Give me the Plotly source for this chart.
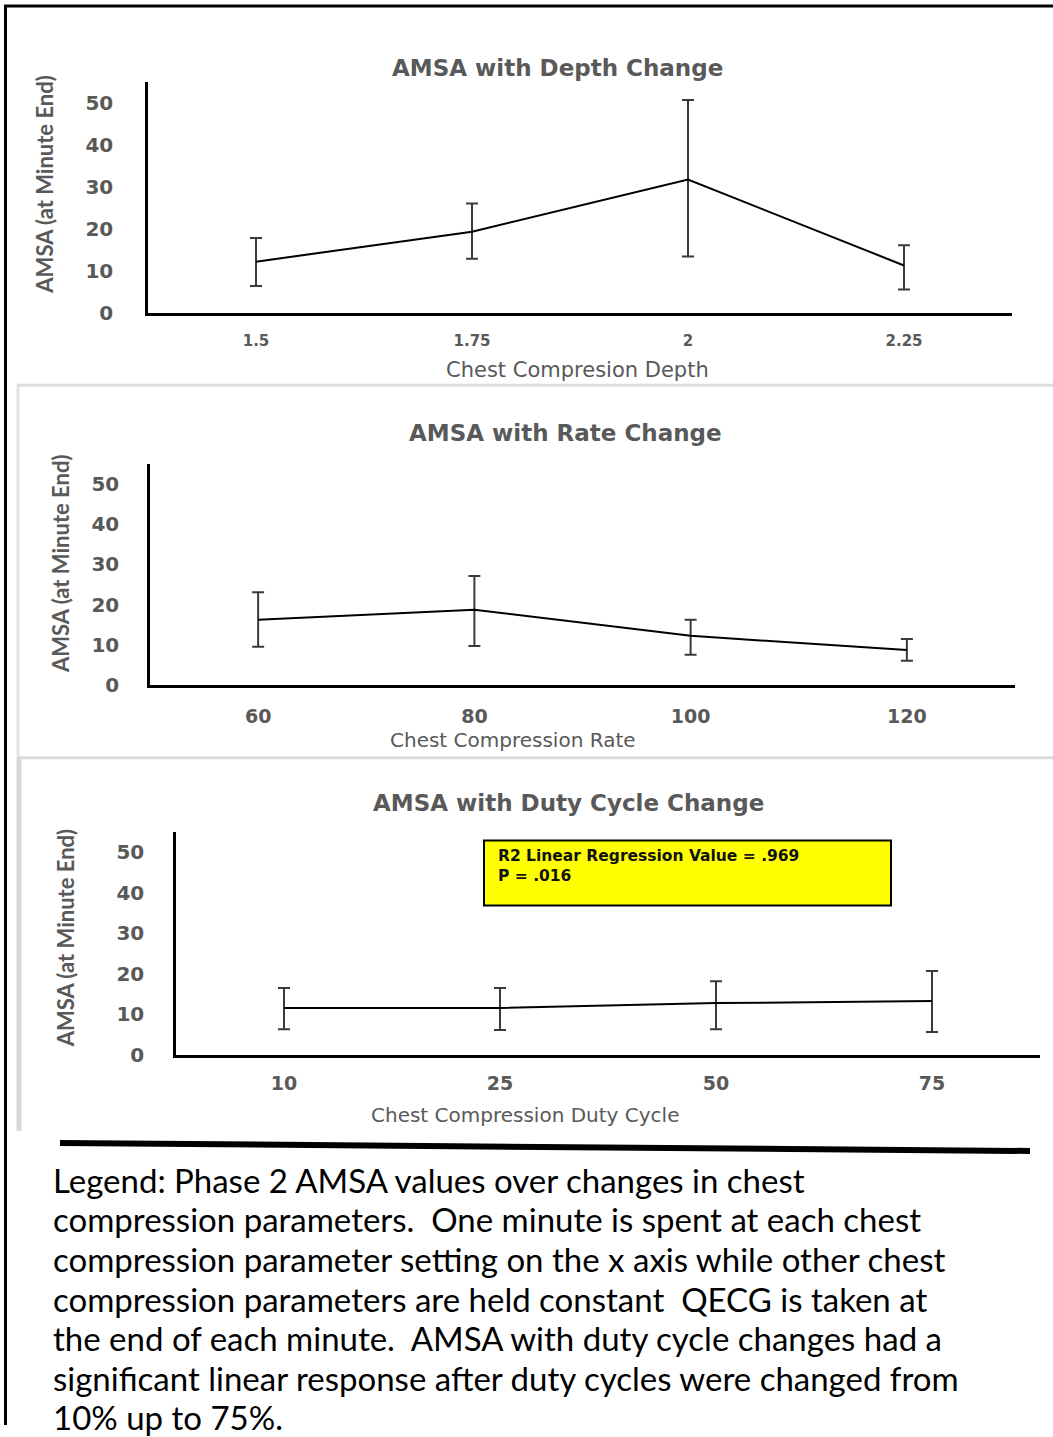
import plotly.graph_objects as go

W, H = 1053, 1437
YS = 1427.5  # vertical calibration: rendered picture is slightly compressed vertically

# ---- data ----
depth_cats = ["1.5", "1.75", "2", "2.25"]
depth_vals = [12.3, 19.4, 31.8, 11.4]
depth_err_plus = [5.6, 6.7, 18.9, 4.8]
depth_err_minus = [5.8, 6.4, 18.3, 5.7]

rate_cats = ["60", "80", "100", "120"]
rate_vals = [16.2, 18.7, 12.2, 8.7]
rate_err_plus = [6.9, 8.4, 4.0, 2.7]
rate_err_minus = [6.7, 9.0, 4.7, 2.7]

duty_cats = ["10", "25", "50", "75"]
duty_vals = [11.6, 11.6, 12.8, 13.3]
duty_err_plus = [4.9, 4.9, 5.4, 7.4]
duty_err_minus = [5.2, 5.4, 6.4, 7.6]

y_ticks = [0, 10, 20, 30, 40, 50]

titles = ["AMSA with Depth Change", "AMSA with Rate Change", "AMSA with Duty Cycle Change"]
x_titles = ["Chest Compresion Depth", "Chest Compression Rate", "Chest Compression Duty Cycle"]
y_title = "AMSA (at Minute End)"
box_lines = ["R2 Linear Regression Value = .969", "P = .016"]
caption_lines = [
    "Legend: Phase 2 AMSA values over changes in chest",
    "compression parameters.  One minute is spent at each chest",
    "compression parameter setting on the x axis while other chest",
    "compression parameters are held constant  QECG is taken at",
    "the end of each minute.  AMSA with duty cycle changes had a",
    "significant linear response after duty cycles were changed from",
    "10% up to 75%.",
]


def PX(x):
    return x / W


def PY(y):
    return max(0.0, 1 - y / YS)


GRAY = "#595959"
TFONT = "DejaVu Sans"

fig = go.Figure()

series = [
    (depth_cats, depth_vals, depth_err_plus, depth_err_minus, "x", "y"),
    (rate_cats, rate_vals, rate_err_plus, rate_err_minus, "x2", "y2"),
    (duty_cats, duty_vals, duty_err_plus, duty_err_minus, "x3", "y3"),
]
for cats, vals, ep, em, xa, ya in series:
    fig.add_trace(go.Scatter(
        x=cats, y=vals, mode="lines", xaxis=xa, yaxis=ya,
        line=dict(color="black", width=2),
        error_y=dict(type="data", array=ep, arrayminus=em, symmetric=False,
                     color="#3a3a3a", thickness=2, width=6),
        showlegend=False, hoverinfo="skip",
    ))

# panel geometry in pixels: (x0, x1, ytop, ybottom)
panels = [(148, 1012, 82, 314), (150, 1015, 465, 686), (176, 1040, 833, 1057)]
xtick_fonts = [dict(family=TFONT, size=15, color=GRAY, weight="bold"),
               dict(family=TFONT, size=19, color=GRAY, weight="bold"),
               dict(family=TFONT, size=19, color=GRAY, weight="bold")]
xtick_len = [12, 13, 9]
ytick_len = [28, 24, 25]
layout_axes = {}
for i, (x0, x1, yt, yb) in enumerate(panels):
    sx = "" if i == 0 else str(i + 1)
    layout_axes["xaxis" + sx] = dict(
        domain=[PX(x0), PX(x1)], anchor="y" + sx, type="category",
        range=[-0.5, 3.5], showline=True, linecolor="black", linewidth=2.5,
        showgrid=False, zeroline=False, ticks="outside", ticklen=xtick_len[i],
        tickcolor="rgba(0,0,0,0)", tickfont=xtick_fonts[i],
    )
    layout_axes["yaxis" + sx] = dict(
        domain=[PY(yb), PY(yt)], anchor="x" + sx, range=[0, 55],
        tickvals=y_ticks, showline=True, linecolor="black", linewidth=2.5,
        showgrid=False, zeroline=False, ticks="outside", ticklen=ytick_len[i],
        tickcolor="rgba(0,0,0,0)",
        tickfont=dict(family=TFONT, size=20, color=GRAY, weight="bold"),
    )
fig.update_layout(**layout_axes)

annotations = []
# chart titles
title_pos = [(557, 68), (565, 434), (568, 804)]
for t, (cx, cy) in zip(titles, title_pos):
    annotations.append(dict(text="<b>" + t + "</b>", x=PX(cx), y=PY(cy), xref="paper", yref="paper",
                            showarrow=False, xanchor="center", yanchor="middle",
                            font=dict(family=TFONT, size=23, color=GRAY)))
# x axis titles
xt_pos = [(577, 371), (513, 741), (525, 1117)]
xt_size = [21, 20, 20]
for t, (cx, cy), fs in zip(x_titles, xt_pos, xt_size):
    annotations.append(dict(text=t, x=PX(cx), y=PY(cy), xref="paper", yref="paper",
                            showarrow=False, xanchor="center", yanchor="middle",
                            font=dict(family=TFONT, size=fs, color=GRAY)))
# y axis titles
yt_pos = [(45, 185), (60, 565), (65, 940)]
for (cx, cy) in yt_pos:
    annotations.append(dict(text="<b>" + y_title + "</b>", x=PX(cx), y=PY(cy), xref="paper", yref="paper",
                            showarrow=False, xanchor="center", yanchor="middle", textangle=-90,
                            font=dict(family="Lato", size=22, color=GRAY)))
# yellow box text
annotations.append(dict(text="<b>" + box_lines[0] + "</b><br><b>" + box_lines[1] + "</b>",
                        x=PX(496), y=PY(846), xref="paper", yref="paper", showarrow=False,
                        xanchor="left", yanchor="top", align="left",
                        font=dict(family=TFONT, size=15.5, color="#111111")))
# caption lines
for k, line in enumerate(caption_lines):
    annotations.append(dict(text=line, x=PX(51), y=PY(1182 + 39.6 * k), xref="paper", yref="paper",
                            showarrow=False, xanchor="left", yanchor="middle", align="left",
                            font=dict(family="Lato", size=33, color="black")))

shapes = [
    # outer black frame
    dict(type="line", xref="paper", yref="paper", x0=PX(4), x1=PX(1053), y0=PY(6), y1=PY(6),
         line=dict(color="black", width=3)),
    dict(type="line", xref="paper", yref="paper", x0=PX(5.5), x1=PX(5.5), y0=PY(5), y1=0,
         line=dict(color="black", width=3)),
    # gray panel frames
    dict(type="line", xref="paper", yref="paper", x0=PX(17), x1=PX(1053), y0=PY(386), y1=PY(386),
         line=dict(color="#dcdcdc", width=3)),
    dict(type="line", xref="paper", yref="paper", x0=PX(18), x1=PX(18), y0=PY(386), y1=PY(759),
         line=dict(color="#e4e4e4", width=3)),
    dict(type="line", xref="paper", yref="paper", x0=PX(17), x1=PX(1053), y0=PY(759), y1=PY(759),
         line=dict(color="#dcdcdc", width=3)),
    dict(type="line", xref="paper", yref="paper", x0=PX(19), x1=PX(19), y0=PY(759), y1=PY(1133),
         line=dict(color="#d8d8d8", width=5)),
    # yellow box
    dict(type="rect", xref="paper", yref="paper", x0=PX(484), x1=PX(891), y0=PY(842), y1=PY(907),
         fillcolor="#ffff00", line=dict(color="black", width=2), layer="below"),
    # thick separator
    dict(type="line", xref="paper", yref="paper", x0=PX(60), x1=PX(1030), y0=PY(1145), y1=PY(1153),
         line=dict(color="black", width=6)),
]

fig.update_layout(
    width=W, height=H, margin=dict(l=0, r=0, t=0, b=0),
    paper_bgcolor="white", plot_bgcolor="rgba(0,0,0,0)",
    annotations=annotations, shapes=shapes, showlegend=False,
)

fig.write_html("out.html")
